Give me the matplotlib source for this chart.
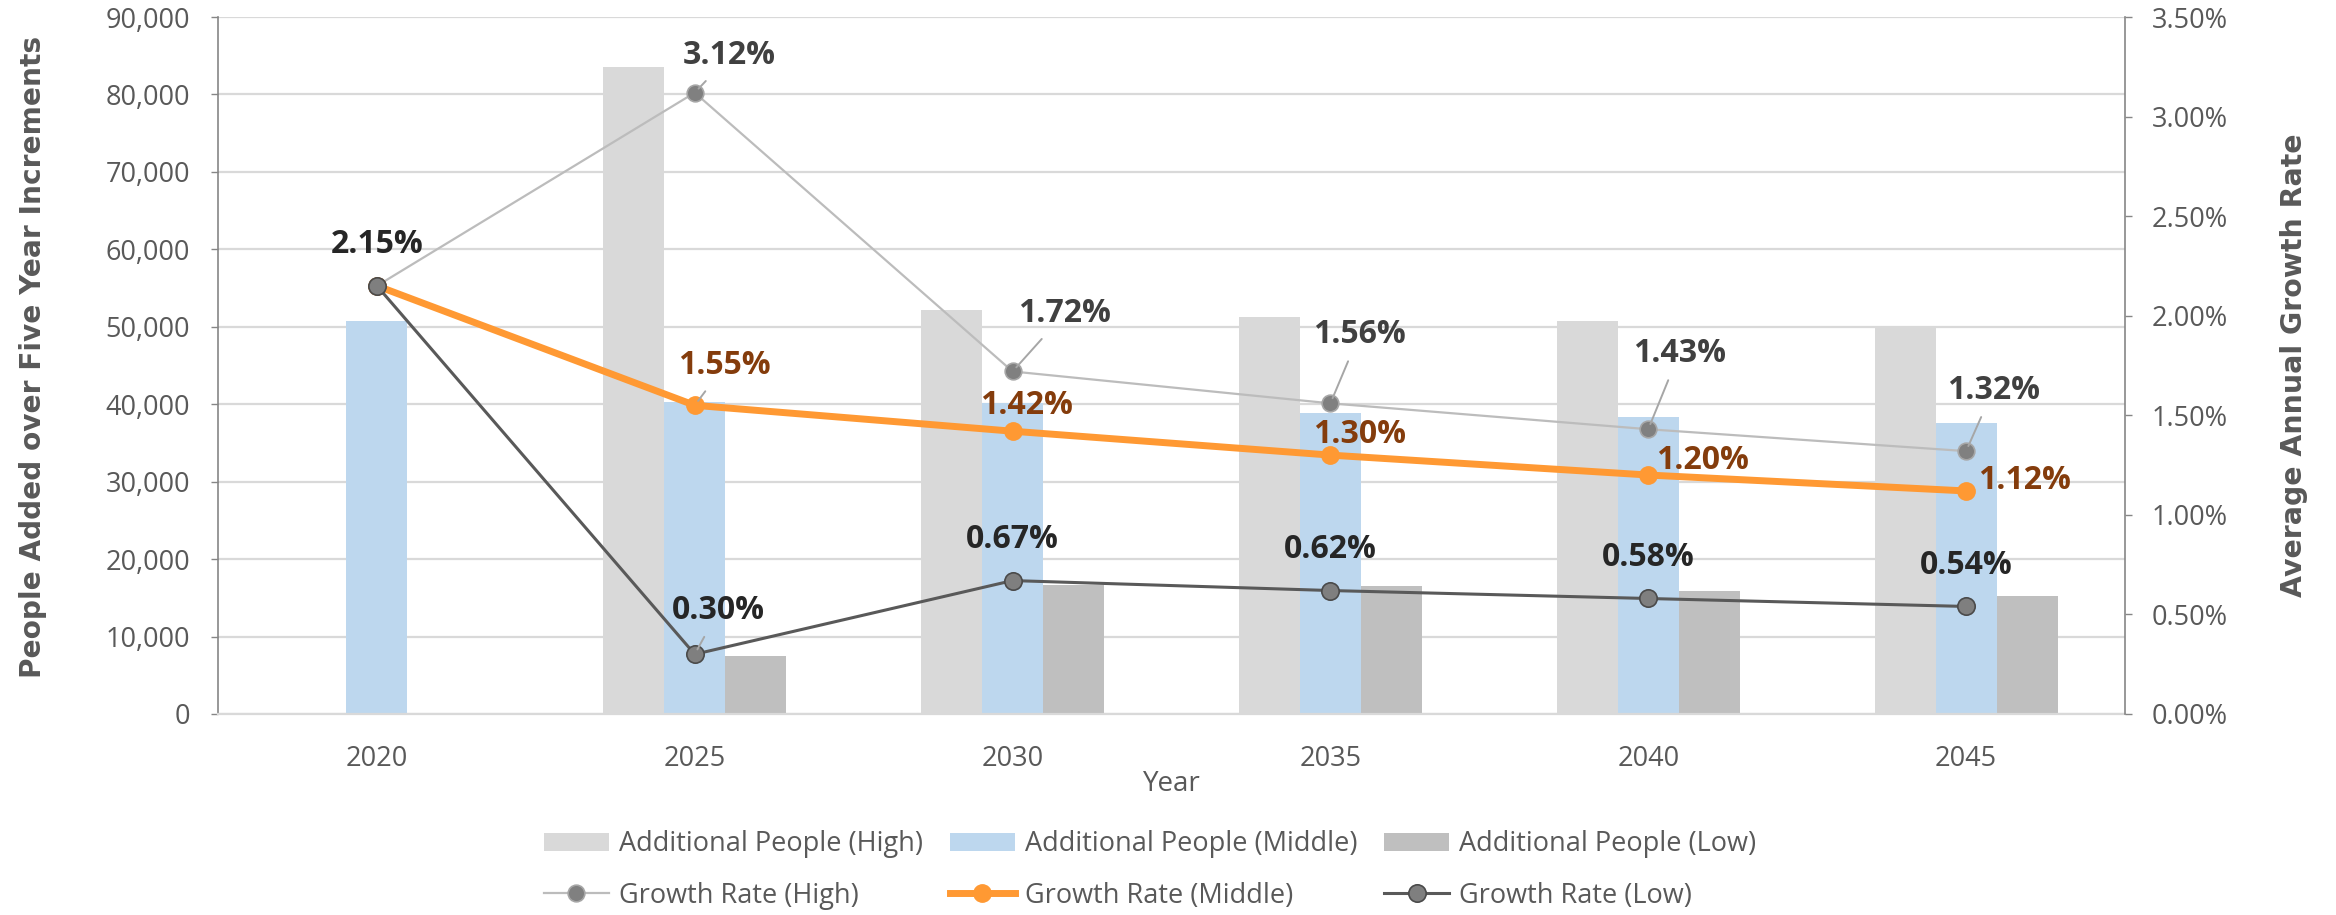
import numpy as np
import matplotlib
matplotlib.use("Agg")
import matplotlib.pyplot as plt
from matplotlib.ticker import FuncFormatter, MultipleLocator

plt.rcParams['font.family'] = ['Open Sans', 'DejaVu Sans']

# ---------------- data ----------------
years = ["2020", "2025", "2030", "2035", "2040", "2045"]
people_high = [np.nan, 83600, 52200, 51300, 50750, 50000]
people_middle = [50700, 40300, 40100, 38900, 38300, 37600]
people_low = [np.nan, 7500, 16700, 16500, 15900, 15300]
rate_high = [2.15, 3.12, 1.72, 1.56, 1.43, 1.32]
rate_middle = [2.15, 1.55, 1.42, 1.30, 1.20, 1.12]
rate_low = [2.15, 0.30, 0.67, 0.62, 0.58, 0.54]

# label layout (pixel offsets from the point; None = no label)
high_label_off = [None, (35, 40), (52, 61), (29, 72), (31, 79), (27, 64)]
high_leader = [False, True, True, True, True, True]
mid_label_off = [None, (30, 43), (14, 29), (29, 24), (54, 18), (58, 13)]
mid_leader = [False, True, False, False, False, False]
low_label_off = [(0, 44), (24, 47), (0, 44), (0, 44), (0, 44), (0, 44)]
low_leader = [False, True, False, False, False, False]

# ---------------- styles ----------------
C_HIGH_BAR = '#d9d9d9'
C_MID_BAR = '#bdd7ee'
C_LOW_BAR = '#bfbfbf'
C_ORANGE = '#ff9933'
C_TEXT = '#595959'
C_AXIS = '#868686'
C_GRID = '#d9d9d9'

W, H, DPI = 2336, 915, 100
fig = plt.figure(figsize=(W / DPI, H / DPI), dpi=DPI)
L, R, T, B = 218, 2125, 17, 714
ax = fig.add_axes([L / W, 1 - B / H, (R - L) / W, (B - T) / H])

x = np.arange(len(years))
bw = 0.192
b1 = ax.bar(x - bw, people_high, bw, color=C_HIGH_BAR, label='Additional People (High)', zorder=2)
b2 = ax.bar(x, people_middle, bw, color=C_MID_BAR, label='Additional People (Middle)', zorder=2)
b3 = ax.bar(x + bw, people_low, bw, color=C_LOW_BAR, label='Additional People (Low)', zorder=2)

ax.set_xlim(-0.5, len(years) - 0.5)
ax.set_ylim(0, 90000)
ax.yaxis.set_major_locator(MultipleLocator(10000))
ax.yaxis.set_major_formatter(FuncFormatter(lambda v, p: f"{v:,.0f}"))
ax.set_xticks(x)
ax.set_xticklabels(years)
ax.grid(axis='y', color=C_GRID, linewidth=1.6, zorder=0)
ax.set_axisbelow(True)
ax.tick_params(axis='x', length=0, pad=22, labelsize=19.5, labelcolor=C_TEXT)
ax.tick_params(axis='y', length=5, width=1, color=C_AXIS, pad=15, labelsize=19.5, labelcolor=C_TEXT)
ax.spines['top'].set_visible(False)
ax.spines['left'].set_color(C_AXIS)
ax.spines['left'].set_linewidth(1.2)
ax.spines['right'].set_visible(False)
ax.spines['bottom'].set_color(C_GRID)
ax.spines['bottom'].set_linewidth(1.6)

ax.set_ylabel('People Added over Five Year Increments', fontfamily='DejaVu Sans',
              fontweight='bold', fontsize=20.2, color=C_TEXT)
ax.yaxis.set_label_coords((33 - L) / (R - L), 0.513)
ax.yaxis.label.set_verticalalignment('center')
ax.set_xlabel('Year', fontsize=20, color=C_TEXT)
ax.xaxis.set_label_coords(0.5, (B - 784) / (B - T))
ax.xaxis.label.set_verticalalignment('center')

ax2 = ax.twinx()
ax2.set_ylim(0, 3.5)
ax2.yaxis.set_major_locator(MultipleLocator(0.5))
ax2.yaxis.set_major_formatter(FuncFormatter(lambda v, p: f"{v:.2f}%"))
ax2.tick_params(axis='y', length=5, width=1, color=C_AXIS, pad=14, labelsize=19.5, labelcolor=C_TEXT)
for s in ['top', 'left', 'bottom']:
    ax2.spines[s].set_visible(False)
ax2.spines['right'].set_color(C_AXIS)
ax2.spines['right'].set_linewidth(1.2)
ax2.set_ylabel('Average Annual Growth Rate', fontfamily='DejaVu Sans',
               fontweight='bold', fontsize=20.4, color=C_TEXT)
ax2.yaxis.set_label_coords((2294 - L) / (R - L), 0.5)
ax2.yaxis.label.set_verticalalignment('center')

lh, = ax2.plot(x, rate_high, color='#bcbcbc', linewidth=1.6, marker='o', markersize=12,
               markerfacecolor='#808080', markeredgecolor='#a6a6a6', markeredgewidth=1.2,
               label='Growth Rate (High)', zorder=3)
lm, = ax2.plot(x, rate_middle, color=C_ORANGE, linewidth=5, marker='o', markersize=12.5,
               markerfacecolor=C_ORANGE, markeredgecolor=C_ORANGE,
               label='Growth Rate (Middle)', zorder=4)
ll, = ax2.plot(x, rate_low, color='#595959', linewidth=2.2, marker='o', markersize=12.5,
               markerfacecolor='#7f7f7f', markeredgecolor='#4a4a4a', markeredgewidth=1.2,
               label='Growth Rate (Low)', zorder=5)


def add_labels(vals, offs, leaders, color):
    for i, v in enumerate(vals):
        if offs[i] is None:
            continue
        dx, dy = offs[i]
        kw = {}
        if leaders[i]:
            kw['arrowprops'] = dict(arrowstyle='-', color='#a6a6a6', linewidth=1.4,
                                    shrinkA=6, shrinkB=4)
        ax2.annotate(f"{v:.2f}%", xy=(x[i], v), xytext=(dx, dy - 3),
                     textcoords='offset pixels', ha='center', va='center',
                     fontsize=23, fontweight='bold', color=color, zorder=6, **kw)


add_labels(rate_high, high_label_off, high_leader, '#404040')
add_labels(rate_middle, mid_label_off, mid_leader, '#843c0c')
add_labels(rate_low, low_label_off, low_leader, '#262626')

handles = [b1, lh, b2, lm, b3, ll]
leg = fig.legend(handles, [h.get_label() for h in handles], ncol=3, loc='center',
                 bbox_to_anchor=(1150 / W, 1 - 870 / H), frameon=False, fontsize=19.5,
                 handlelength=2.4, handletextpad=0.37, columnspacing=1.0, labelspacing=0.85)
for t in leg.get_texts():
    t.set_color(C_TEXT)

fig.savefig('out.png', dpi=DPI)
